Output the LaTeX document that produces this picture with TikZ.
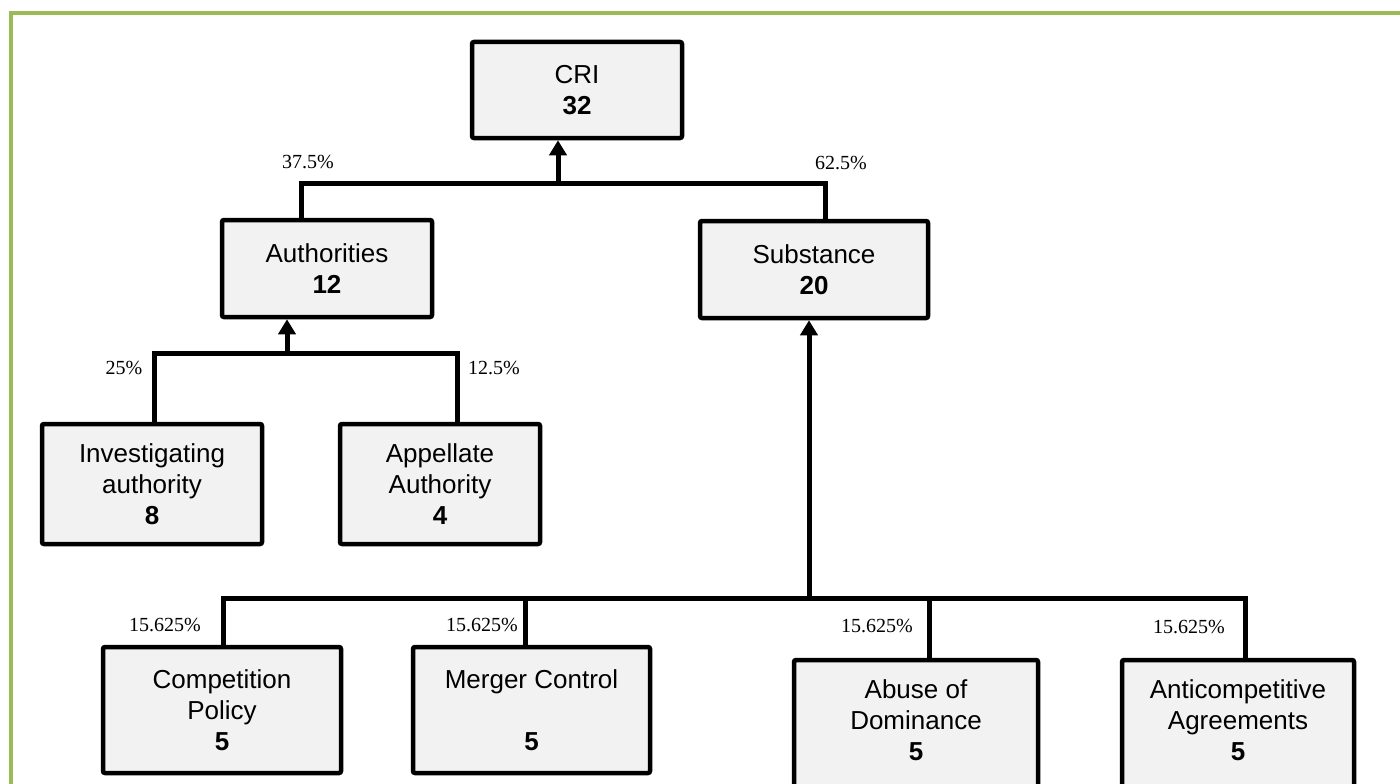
\documentclass[tikz,border=0pt]{standalone}
\usepackage{fontspec}
\setmainfont{Liberation Sans}
\newfontfamily\pctfont{Liberation Serif}
\usetikzlibrary{arrows.meta}
\definecolor{framegreen}{RGB}{155,187,89}
\definecolor{boxfill}{RGB}{242,242,242}
\begin{document}
\begin{tikzpicture}[x=1pt, y=-1pt,
  box/.style={draw=black, line width=4.5pt, fill=boxfill, rounded corners=2pt,
    align=center, inner sep=0pt, font=\fontsize{26}{31}\selectfont},
  conn/.style={draw=black, line width=5pt, line join=miter},
  tip/.style={-{Triangle[length=15pt,width=17pt]}},
  pct/.style={inner sep=0pt, font=\pctfont\fontsize{20}{24}\selectfont}]

\useasboundingbox (0,0) rectangle (1400,784);
\clip (0,0) rectangle (1400,784);

% outer frame
\draw[framegreen, line width=4pt] (11,13) rectangle (1430,820);

% boxes
\node[box, minimum width=210pt, minimum height=96pt] (cri) at (577,90) {CRI\\\textbf{32}};
\node[box, minimum width=210pt, minimum height=97pt] (auth) at (327,268.5) {Authorities\\\textbf{12}};
\node[box, minimum width=228pt, minimum height=97pt] (subst) at (814,269.5) {Substance\\\textbf{20}};
\node[box, minimum width=220pt, minimum height=120pt] (inv) at (152,484) {Investigating\\authority\\\textbf{8}};
\node[box, minimum width=200pt, minimum height=120pt] (app) at (440,484) {Appellate\\Authority\\\textbf{4}};
\node[box, minimum width=238pt, minimum height=126pt] (comp) at (222,710) {Competition\\Policy\\\textbf{5}};
\node[box, minimum width=237pt, minimum height=126pt] (merger) at (531.5,710) {Merger Control\\\mbox{}\\\textbf{5}};
\node[box, minimum width=244pt, minimum height=140pt] (abuse) at (916,730) {Abuse of\\Dominance\\\textbf{5}\rule[-20pt]{0pt}{20pt}};
\node[box, minimum width=232pt, minimum height=140pt] (anti) at (1238,730) {Anticompetitive\\Agreements\\\textbf{5}\rule[-20pt]{0pt}{20pt}};

% junction points of the connectors
\coordinate (topL) at (301,183);
\coordinate (topR) at (825,183);
\coordinate (topJ) at (558,183);
\coordinate (midL) at (154,353);
\coordinate (midR) at (457,353);
\coordinate (midJ) at (287,353);
\coordinate (lowL) at (223,598);
\coordinate (lowR) at (1245,598);
\coordinate (lowJ) at (809,598);
\coordinate (lowB) at (525,598);
\coordinate (lowC) at (929,598);

% connectors
\draw[conn] (auth.north -| topL) -- (topL) -- (topR) -- (subst.north -| topR);
\draw[conn, tip] (topJ) -- (cri.south -| topJ);

\draw[conn] (inv.north -| midL) -- (midL) -- (midR) -- (app.north -| midR);
\draw[conn, tip] (midJ) -- (auth.south -| midJ);

\draw[conn] (comp.north -| lowL) -- (lowL) -- (lowR) -- (anti.north -| lowR);
\draw[conn] (lowB) -- (merger.north -| lowB);
\draw[conn] (lowC) -- (abuse.north -| lowC);
\draw[conn, tip] (lowJ) -- (subst.south -| lowJ);

% weights
\node[pct] (wAuth) at (308,162) {37.5\%};
\node[pct] (wSubst) at (841,163) {62.5\%};
\node[pct] (wInv) at (124,368) {25\%};
\node[pct] (wApp) at (494,368) {12.5\%};
\node[pct] (wComp) at (165,625) {15.625\%};
\node[pct] (wMerger) at (482,625) {15.625\%};
\node[pct] (wAbuse) at (877,626) {15.625\%};
\node[pct] (wAnti) at (1189,627) {15.625\%};
\end{tikzpicture}
\end{document}
